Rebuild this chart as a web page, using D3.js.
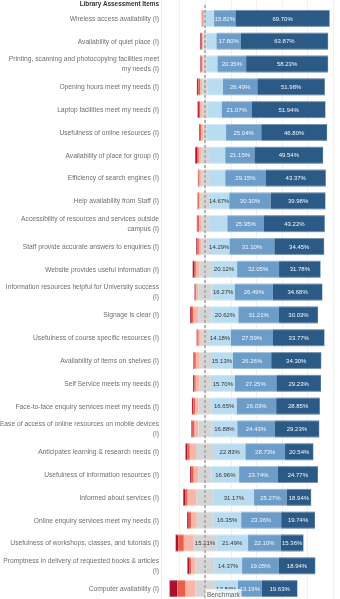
<!DOCTYPE html>
<html>
<head>
<meta charset="utf-8">
<script src="https://cdn.jsdelivr.net/npm/d3@7"></script>
<style>
  body { margin: 0; background: #fff; }
  svg { display: block; font-family: "Liberation Sans", Arial, sans-serif; will-change: transform; }
</style>
</head>
<body>
<div id="chart"></div>
<script>
// survey items, top to bottom
const items = [
    "Wireless access availability (I)",
    "Availability of quiet place (I)",
    "Printing, scanning and photocopying facilities meet my needs (I)",
    "Opening hours meet my needs (I)",
    "Laptop facilities meet my needs (I)",
    "Usefulness of online resources (I)",
    "Availability of place for group (I)",
    "Efficiency of search engines (I)",
    "Help availability from Staff (I)",
    "Accessibility of resources and services outside campus (I)",
    "Staff provide accurate answers to enquiries (I)",
    "Website provides useful information (I)",
    "Information resources helpful for University success (I)",
    "Signage is clear (I)",
    "Usefulness of course specific resources (I)",
    "Availability of items on shelves (I)",
    "Self Service meets my needs (I)",
    "Face-to-face enquiry services meet my needs (I)",
    "Ease of access of online resources on mobile devices (I)",
    "Anticipates learning & research needs (I)",
    "Usefulness of information resources (I)",
    "Informed about services (I)",
    "Online enquiry services meet my needs (I)",
    "Usefulness of workshops, classes, and tutorials (I)",
    "Promptness in delivery of requested books & articles (I)",
    "Computer availability (I)"
];

// % of responses per item for each answer level
const stronglyDisagree = [0.3, 0.6, 0.5, 1.2, 1.0, 0.6, 1.5, 0.5, 0.5, 0.6, 0.8, 1.5, 0.7, 1.3, 0.5, 0.6, 0.8, 0.9, 0.9, 1.5, 1.0, 1.8, 1.0, 1.8, 0.9, 4.3];
const disagree         = [0.5, 0.9, 0.8, 1.3, 1.1, 1.0, 1.2, 0.8, 0.8, 1.0, 1.1, 1.0, 0.7, 1.4, 0.9, 1.2, 1.0, 1.2, 1.3, 1.7, 1.3, 1.7, 1.4, 3.8, 1.2, 4.6];
const slightlyDisagree = [0.9, 0.9, 1.0, 1.7, 1.6, 1.4, 1.6, 1.0, 1.1, 1.4, 1.5, 2.5, 1.4, 3.7, 1.4, 2.2, 2.2, 2.2, 2.5, 4.5, 2.9, 6.6, 3.3, 6.7, 2.2, 5.4];
const neutral          = [1.5, 2.4, 2.4, 4.1, 3.2, 2.4, 5.7, 5.7, 6.2, 5.6, 5.5, 9.0, 9.2, 10.2, 5.5, 8.1, 7.7, 8.7, 8.6, 13.1, 8.1, 13.7, 9.6, 15.21, 9.8, 10.6];
const slightlyAgree    = [6.0, 7.2, 7.7, 11.8, 10.2, 13.8, 11.8, 11.8, 14.67, 13.1, 14.29, 20.12, 16.27, 20.62, 14.18, 15.13, 15.70, 16.65, 16.88, 22.83, 16.96, 31.17, 16.35, 21.49, 14.37, 12.84];
const agree            = [15.82, 17.80, 20.35, 26.49, 21.07, 25.04, 21.15, 29.15, 30.30, 25.95, 31.10, 32.05, 26.49, 31.21, 27.59, 26.26, 27.25, 26.03, 24.43, 28.73, 23.74, 25.27, 23.36, 22.10, 19.05, 13.19];
const stronglyAgree    = [69.70, 63.87, 58.23, 51.98, 51.94, 46.80, 49.54, 43.37, 39.98, 43.22, 34.45, 31.78, 34.68, 30.03, 33.77, 34.30, 29.23, 28.85, 29.23, 20.54, 24.77, 18.94, 19.74, 15.36, 18.94, 19.63];

const levels = [stronglyDisagree, disagree, slightlyDisagree, neutral, slightlyAgree, agree, stronglyAgree];
const colors = ["#a8102e", "#e8604c", "#f9b6a6", "#d5d5d5", "#badcf0", "#6c9cc8", "#2c5a87"];
const textColors = ["#fff", "#fff", "#333", "#333", "#333", "#f4f7fb", "#f4f7fb"];

const width = 340, height = 599;
const center = 205, barLen = 128, labelRight = 159;

const svg = d3.select("#chart").append("svg")
    .attr("width", width)
    .attr("height", height);

// share of each row, neutral split around the benchmark
let x = d3.scaleLinear()
    .domain([-0.2, 1.0])
    .range([center - 0.2 * barLen, center + barLen]);

let y = d3.scaleBand()
    .domain(items)
    .range([7, 600])
    .paddingInner(0.26)
    .paddingOuter(0.13);

// faint grid
svg.append("line")
    .attr("x1", 161.5).attr("x2", 161.5)
    .attr("y1", 0).attr("y2", height)
    .attr("stroke", "#ececec");

svg.append("g")
    .selectAll("line")
    .data(x.ticks(6))
    .enter()
    .append("line")
    .attr("x1", d => Math.round(x(d)) + 0.5)
    .attr("x2", d => Math.round(x(d)) + 0.5)
    .attr("y1", 0)
    .attr("y2", height)
    .attr("stroke", "#f1f1f1");

// build stacked segments per row
let rows = items.map((item, i) => {
    let vals = levels.map(s => s[i]);
    let total = d3.sum(vals);
    let start = -(vals[0] + vals[1] + vals[2] + vals[3] / 2) / total;
    let segs = [];
    vals.forEach((v, k) => {
        segs.push({ item: item, level: k, value: v, x0: start, x1: start + v / total });
        start += v / total;
    });
    return segs;
});

let bars = svg.append("g")
    .selectAll("g")
    .data(rows)
    .enter()
    .append("g");

bars.selectAll("rect")
    .data(d => d)
    .enter()
    .append("rect")
    .attr("x", d => x(d.x0))
    .attr("y", d => y(d.item))
    .attr("width", d => x(d.x1) - x(d.x0))
    .attr("height", y.bandwidth())
    .attr("fill", d => colors[d.level]);

// outline round each bar
bars.append("rect")
    .attr("x", d => x(d[0].x0))
    .attr("y", d => y(d[0].item) + 0.5)
    .attr("width", d => x(d[6].x1) - x(d[0].x0))
    .attr("height", y.bandwidth() - 1)
    .attr("fill", "none")
    .attr("stroke", "#fff")
    .attr("stroke-opacity", 0.35);

// value labels where the segment is wide enough
bars.selectAll("text")
    .data(d => d.filter(s => x(s.x1) - x(s.x0) > 19.8))
    .enter()
    .append("text")
    .attr("x", d => (x(d.x0) + x(d.x1)) / 2)
    .attr("y", d => y(d.item) + y.bandwidth() / 2 + 2.2)
    .attr("text-anchor", "middle")
    .attr("font-size", 6)
    .attr("fill", d => textColors[d.level])
    .text(d => d.value.toFixed(2) + "%");

// item labels, wrapped
let labels = svg.append("g")
    .selectAll("text")
    .data(items)
    .enter()
    .append("text")
    .attr("x", labelRight)
    .attr("text-anchor", "end")
    .attr("font-size", 6.7)
    .attr("fill", "#6f6f6f")
    .text(d => d);

labels.each(function (d) {
    let t = d3.select(this);
    let words = d.split(" ");
    let lines = [];
    let line = [];
    words.forEach(w => {
        line.push(w);
        t.text(line.join(" "));
        if (this.getComputedTextLength() > labelRight + 1.3 && line.length > 1) {
            line.pop();
            lines.push(line.join(" "));
            line = [w];
        }
    });
    lines.push(line.join(" "));
    t.text(null);
    let cy = y(d) + y.bandwidth() / 2;
    lines.forEach((l, j) => {
        t.append("tspan")
            .attr("x", labelRight)
            .attr("y", cy + 2.4 + (j - (lines.length - 1) / 2) * 10)
            .text(l);
    });
});

svg.append("text")
    .attr("x", labelRight)
    .attr("y", 5.5)
    .attr("text-anchor", "end")
    .attr("font-size", 6.4)
    .attr("font-weight", "bold")
    .attr("fill", "#333")
    .text("Library Assessment Items");

// benchmark line
svg.append("line")
    .attr("x1", center).attr("x2", center)
    .attr("y1", 5).attr("y2", height)
    .attr("stroke", "#a3a3a3")
    .attr("stroke-width", 1.5)
    .attr("stroke-dasharray", "3,2");

svg.append("rect")
    .attr("x", center + 0.5)
    .attr("y", 589)
    .attr("width", 36)
    .attr("height", 10)
    .attr("fill", "#fff")
    .attr("fill-opacity", 0.75);

svg.append("text")
    .attr("x", center + 2)
    .attr("y", 597)
    .attr("font-size", 6.5)
    .attr("fill", "#666")
    .text("Benchmark");
</script>
</body>
</html>
